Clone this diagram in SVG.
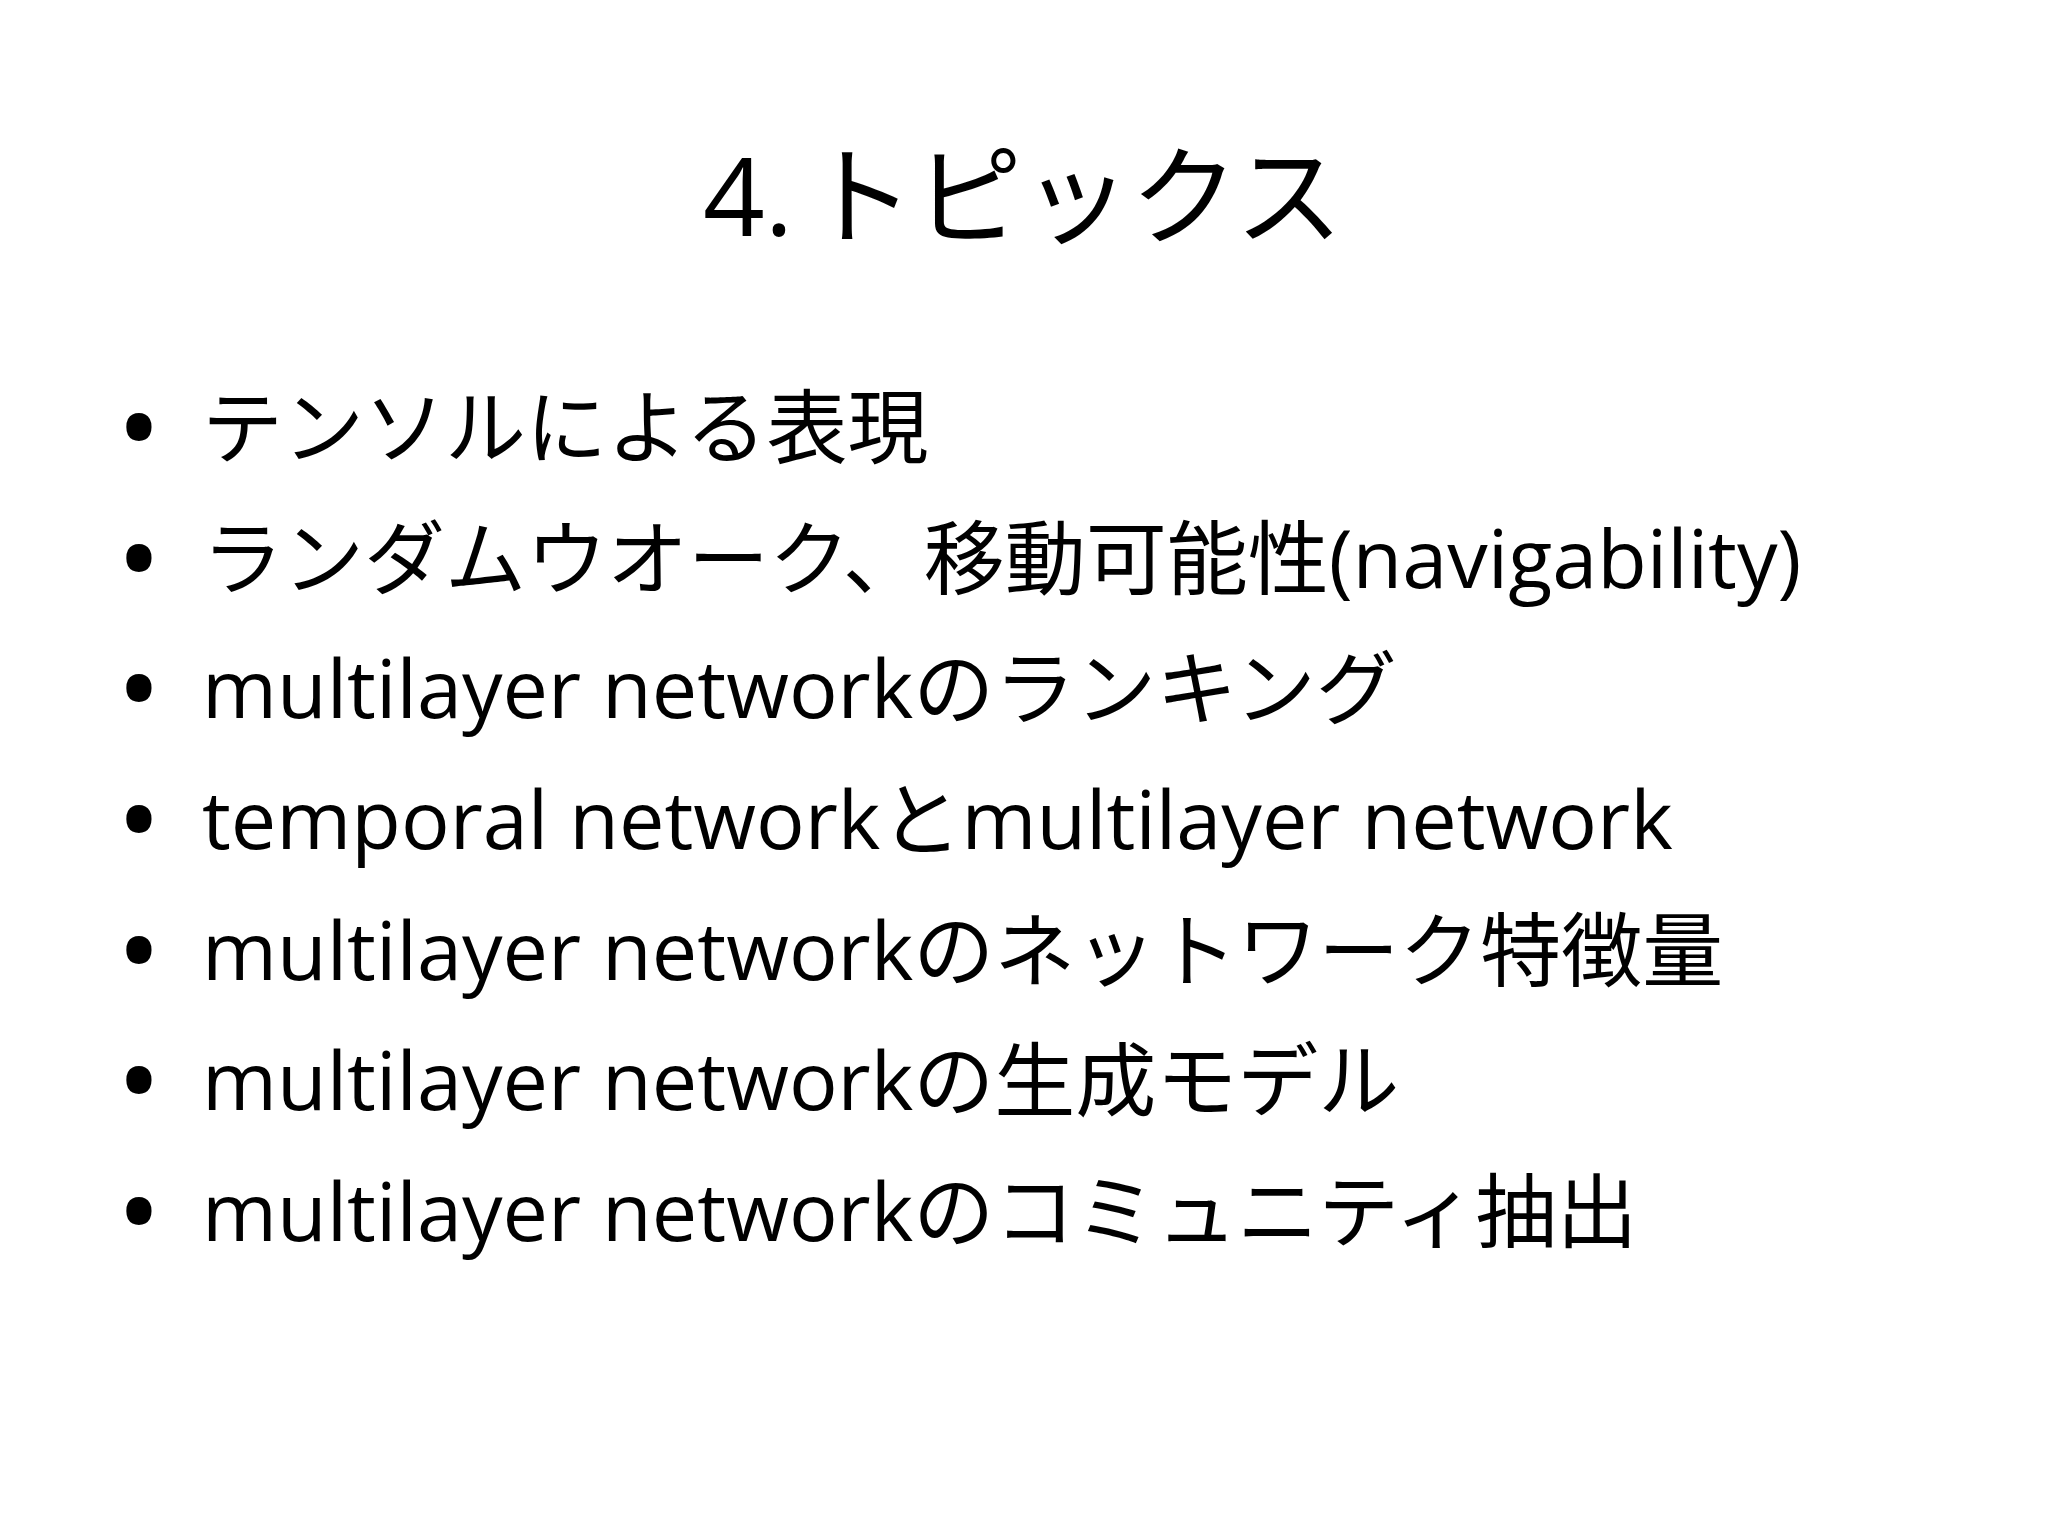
<svg xmlns="http://www.w3.org/2000/svg" width="2048" height="1536" viewBox="0 0 2048 1536">
<style>
text{font-family:"Open Sans","Noto Sans CJK JP",sans-serif;fill:#000}
.t{font-size:108px}
.b{font-size:81px}
.d{font-size:90px;font-weight:bold}
</style>
<rect width="2048" height="1536" fill="#fff"/>
<g id="title"><text class="t" x="1023" y="236" text-anchor="middle">4.<tspan font-size="50"> </tspan>トピックス</text></g>
<g id="bullets">
<g id="b1"><text class="d" x="122" y="460">•</text><text class="b" x="202" y="457">テンソルによる表現</text></g>
<g id="b2"><text class="d" x="122" y="591">•</text><text class="b" x="202" y="588">ランダムウオーク、移動可能性(navigability)</text></g>
<g id="b3"><text class="d" x="122" y="721">•</text><text class="b" x="202" y="718">multilayer networkのランキング</text></g>
<g id="b4"><text class="d" x="122" y="852">•</text><text class="b" x="202" y="849">temporal networkとmultilayer network</text></g>
<g id="b5"><text class="d" x="122" y="983">•</text><text class="b" x="202" y="980">multilayer networkのネットワーク特徴量</text></g>
<g id="b6"><text class="d" x="122" y="1113">•</text><text class="b" x="202" y="1110">multilayer networkの生成モデル</text></g>
<g id="b7"><text class="d" x="122" y="1244">•</text><text class="b" x="202" y="1241">multilayer networkのコミュニティ抽出</text></g>
</g>
</svg>
